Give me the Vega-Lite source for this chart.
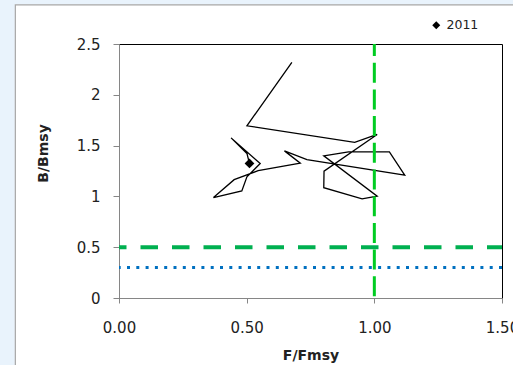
{
  "$schema": "https://vega.github.io/schema/vega-lite/v6.json",
  "autosize": "none",
  "width": 383,
  "height": 254,
  "padding": {"left": 119, "top": 44, "right": 11, "bottom": 67},
  "background": "#ffffff",
  "config": {
    "font": "DejaVu Sans",
    "view": {"stroke": "#000000", "strokeWidth": 1},
    "axis": {"zindex": 1, "grid": false, "domainColor": "#868686", "tickColor": "#868686", "labelColor": "#222222", "titleColor": "#222222", "labelFont": "DejaVu Sans", "titleFont": "DejaVu Sans", "labelFontSize": 15, "titleFontSize": 14, "titleFontWeight": "bold"}
  },
  "datasets": {
    "traj": [
      {"year": 1988, "F": 0.677, "B": 2.319},
      {"year": 1989, "F": 0.501, "B": 1.695},
      {"year": 1990, "F": 0.923, "B": 1.531},
      {"year": 1991, "F": 1.011, "B": 1.61},
      {"year": 1992, "F": 0.803, "B": 1.248},
      {"year": 1993, "F": 0.802, "B": 1.086},
      {"year": 1994, "F": 0.952, "B": 0.975},
      {"year": 1995, "F": 1.011, "B": 1.002},
      {"year": 1996, "F": 0.802, "B": 1.399},
      {"year": 1997, "F": 0.899, "B": 1.438},
      {"year": 1998, "F": 1.059, "B": 1.438},
      {"year": 1999, "F": 1.119, "B": 1.209},
      {"year": 2000, "F": 0.736, "B": 1.363},
      {"year": 2001, "F": 0.648, "B": 1.448},
      {"year": 2002, "F": 0.71, "B": 1.327},
      {"year": 2003, "F": 0.545, "B": 1.253},
      {"year": 2004, "F": 0.451, "B": 1.165},
      {"year": 2005, "F": 0.37, "B": 0.989},
      {"year": 2006, "F": 0.481, "B": 1.054},
      {"year": 2007, "F": 0.501, "B": 1.192},
      {"year": 2008, "F": 0.553, "B": 1.324},
      {"year": 2009, "F": 0.439, "B": 1.576},
      {"year": 2010, "F": 0.501, "B": 1.423},
      {"year": 2011, "F": 0.511, "B": 1.324}
    ]
  },
  "layer": [
    {
      "data": {"values": [{"x1": -1.5, "x2": -0.408, "y1": -1.5, "y2": 4}, {"x1": -1.5, "x2": 2.5, "y1": 2.888, "y2": 4}]},
      "mark": {"type": "rect", "fill": "#e9f3fc", "clip": false},
      "encoding": {
        "x": {"field": "x1", "type": "quantitative", "scale": {"domain": [0, 1.5], "nice": false, "zero": false}},
        "x2": {"field": "x2"},
        "y": {"field": "y1", "type": "quantitative", "scale": {"domain": [0, 2.5], "nice": false, "zero": false}},
        "y2": {"field": "y2"}
      }
    },
    {
      "data": {"values": [{"x1": -0.406, "x2": 2.5, "y1": -1.5, "y2": 2.886}]},
      "mark": {"type": "rect", "fill": "transparent", "stroke": "#a6a6a6", "strokeWidth": 1.2, "clip": false},
      "encoding": {
        "x": {"field": "x1", "type": "quantitative"},
        "x2": {"field": "x2"},
        "y": {"field": "y1", "type": "quantitative"},
        "y2": {"field": "y2"}
      }
    },
    {
      "data": {"name": "traj"},
      "mark": {"type": "line", "color": "#000000", "strokeWidth": 1.3},
      "encoding": {
        "x": {"field": "F", "type": "quantitative", "scale": {"domain": [0, 1.5], "nice": false, "zero": false},
          "axis": {"title": "F/Fmsy", "values": [0, 0.5, 1, 1.5], "format": ".2f", "tickSize": 5, "labelPadding": 17, "titlePadding": 13, "labelFlush": false}},
        "y": {"field": "B", "type": "quantitative", "scale": {"domain": [0, 2.5], "nice": false, "zero": false},
          "axis": {"title": "B/Bmsy", "values": [0, 0.5, 1, 1.5, 2, 2.5], "format": "~g", "tickSize": 6, "labelPadding": 13, "titleX": -76, "titleY": 109, "titleBaseline": "middle", "titleAlign": "center", "labelFlush": false}},
        "order": {"field": "year", "type": "quantitative"}
      }
    },
    {
      "data": {"values": [{"ref": 0.5}]},
      "mark": {"type": "rule", "color": "#00b050", "strokeWidth": 4, "strokeDash": [17.5, 14], "strokeDashOffset": 2.5},
      "encoding": {"y": {"field": "ref", "type": "quantitative"}}
    },
    {
      "data": {"values": [{"ref": 0.3}]},
      "mark": {"type": "rule", "color": "#0070c0", "strokeWidth": 3, "strokeDash": [3, 6.3]},
      "encoding": {"y": {"field": "ref", "type": "quantitative"}}
    },
    {
      "data": {"values": [{"ref": 1.0}]},
      "mark": {"type": "rule", "color": "#00cc22", "strokeWidth": 3, "strokeDash": [20, 6.7], "strokeDashOffset": 8},
      "encoding": {"x": {"field": "ref", "type": "quantitative"}}
    },
    {
      "data": {"name": "traj"},
      "transform": [{"filter": "datum.year == 2011"}],
      "mark": {"type": "point", "filled": true, "color": "#000000", "opacity": 1, "size": 95},
      "encoding": {
        "x": {"field": "F", "type": "quantitative"},
        "y": {"field": "B", "type": "quantitative"},
        "shape": {"field": "year", "type": "nominal", "scale": {"range": ["diamond"]},
          "legend": {"title": null, "orient": "none", "legendX": 311, "legendY": -25, "symbolSize": 65, "symbolFillColor": "#000000", "symbolStrokeColor": "#000000", "labelFontSize": 12.5, "labelColor": "#222222", "labelFont": "DejaVu Sans", "labelOffset": 4, "padding": 0}}
      }
    }
  ]
}
